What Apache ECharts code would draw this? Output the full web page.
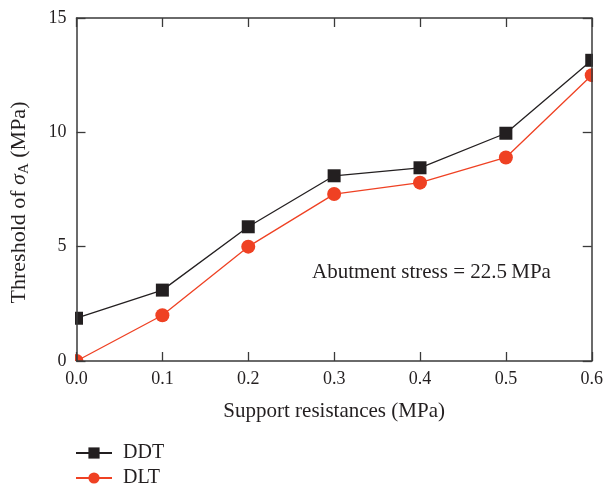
<!DOCTYPE html>
<html>
<head>
<meta charset="utf-8">
<script src="https://cdn.jsdelivr.net/npm/echarts@6/dist/echarts.min.js"></script>
<style>
html,body{margin:0;padding:0;background:#fff;}
#chart{width:606px;height:487px;}
</style>
</head>
<body>
<div id="chart"></div>
<script>
// Support resistance (MPa) on the x axis
var resistances = [0.0, 0.1, 0.2, 0.3, 0.4, 0.5, 0.6];
// Threshold of sigma_A (MPa) for each loading type
var ddtValues = [1.87, 3.1, 5.87, 8.1, 8.45, 9.96, 13.15];
var dltValues = [0.0, 2.0, 5.0, 7.3, 7.8, 8.9, 12.5];
var seriesNames = ['DDT', 'DLT'];
var annotation = 'Abutment stress = 22.5\u2009MPa';

var FONT = 'Liberation Serif';
var AXIS = '#3a3a3a';
var TXT = '#231f20';
var BLACK = '#231f20';
var RED = '#ef4123';

// plot frame in pixels
var G = { left: 75, top: 18, right: 13, bottom: 126 };
var W = 606, H = 487;

function pairs(xs, ys) { return xs.map(function (x, i) { return [x, ys[i]]; }); }

var chart = echarts.init(document.getElementById('chart'));
var axisCommon = {
  z: 3,
  axisLine: { show: true, onZero: false, lineStyle: { color: AXIS, width: 1.5 } },
  axisTick: { show: true, inside: true, length: 9, lineStyle: { color: AXIS, width: 1.3 } },
  splitLine: { show: false }
};
function legendAt(name, top) {
  return {
    orient: 'vertical', left: 75, top: top, padding: 0, z: 5,
    itemWidth: 36, itemHeight: 14,
    textStyle: { fontFamily: FONT, fontSize: 20, color: TXT, padding: [0, 0, 0, 6] },
    data: [name]
  };
}
// white strips outside the frame so markers on the edges are cut at the axes
var maskStyle = { fill: '#fff' };
var masks = [
  { type: 'rect', z: 2, silent: true, shape: { x: 0, y: 0, width: G.left, height: H }, style: maskStyle },
  { type: 'rect', z: 2, silent: true, shape: { x: W - G.right, y: 0, width: G.right, height: H }, style: maskStyle },
  { type: 'rect', z: 2, silent: true, shape: { x: 0, y: 0, width: W, height: G.top }, style: maskStyle },
  { type: 'rect', z: 2, silent: true, shape: { x: 0, y: H - G.bottom, width: W, height: G.bottom }, style: maskStyle }
];
chart.setOption({
  animation: false,
  backgroundColor: '#fff',
  textStyle: { fontFamily: FONT },
  grid: G,
  legend: [legendAt(seriesNames[0], 443), legendAt(seriesNames[1], 468)],
  xAxis: [
    Object.assign({
      type: 'value', min: 0, max: 0.6, interval: 0.1,
      name: 'Support resistances (MPa)', nameLocation: 'middle', nameGap: 40,
      nameTextStyle: { fontFamily: FONT, fontSize: 21, color: TXT },
      axisLabel: { fontFamily: FONT, fontSize: 18, color: TXT, margin: 9,
        formatter: function (v) { return v.toFixed(1); } }
    }, axisCommon),
    Object.assign({
      type: 'value', min: 0, max: 0.6, interval: 0.1, position: 'top',
      axisLabel: { show: false }
    }, axisCommon)
  ],
  yAxis: [
    Object.assign({
      type: 'value', min: 0, max: 15, interval: 5,
      name: '{n|Threshold of }{s|\u03c3}{sub|A}{n| (MPa)}',
      nameLocation: 'middle', nameGap: 45,
      nameTextStyle: {
        padding: [0, 26, 0, 0],
        rich: {
          n: { fontFamily: FONT, fontSize: 22, color: TXT },
          s: { fontFamily: FONT, fontSize: 22, fontStyle: 'italic', color: TXT },
          sub: { fontFamily: FONT, fontSize: 15, color: TXT, verticalAlign: 'bottom', padding: [10, 0, 0, 0] }
        }
      },
      axisLabel: { fontFamily: FONT, fontSize: 18, color: TXT, margin: 10 }
    }, axisCommon),
    Object.assign({
      type: 'value', min: 0, max: 15, interval: 5, position: 'right',
      axisLabel: { show: false }
    }, axisCommon)
  ],
  graphic: masks.concat([{
    type: 'text', left: 312, top: 262, z: 5,
    style: { text: annotation, font: '21px "Liberation Serif"', fill: TXT }
  }]),
  series: [
    {
      name: seriesNames[1], type: 'line', data: pairs(resistances, dltValues),
      symbol: 'circle', symbolSize: 14, clip: false, z: 1,
      lineStyle: { color: RED, width: 1.3 },
      itemStyle: { color: RED }
    },
    {
      name: seriesNames[0], type: 'line', data: pairs(resistances, ddtValues),
      symbol: 'rect', symbolSize: 13, clip: false, z: 1,
      lineStyle: { color: BLACK, width: 1.3 },
      itemStyle: { color: BLACK }
    }
  ]
});
</script>
</body>
</html>
